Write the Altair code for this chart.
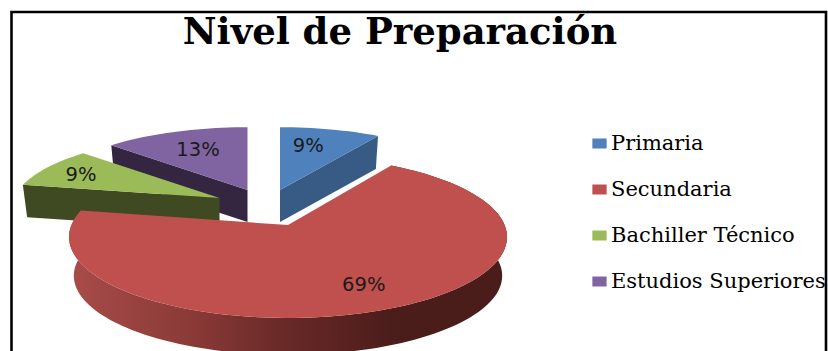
import math
import altair as alt

# Chart content
categories = ["Primaria", "Secundaria", "Bachiller Técnico", "Estudios Superiores"]
shares = [9, 69, 9, 13]
top_colors = ["#4F81BD", "#C0504D", "#9BBB59", "#8064A2"]
cut_colors = ["#375B85", "#4A1C1A", "#3F4A22", "#342640"]
chart_title = "Nivel de Preparación"

# Canvas and tilted-disc projection
WIDTH, HEIGHT = 828, 351
DISC_A, DISC_B, DISC_K = 216.6, 79.2, 0.148
BOTTOM_SCALE = 0.978

# Exploded slice layout: hub, scale in x and y, wall drop, label radius and angular shift
hubs = [(280, 190), (288, 225), (219.5, 198), (247.5, 190)]
scales = [(0.95, 0.91), (1.0, 1.0), (0.95, 0.91), (0.95, 0.91)]
drops = [32, 39, 32, 32]
label_radius = [0.68, 0.75, 0.782, 0.66]
label_shift = [-3.4, -1.4, -1.6, 0.0]


def disc_point(angle, radius=1.0):
    """Project a point of the unit disc (angle clockwise from the back) to the tilted plane."""
    a = math.radians(angle)
    px, py = radius * math.sin(a), -radius * math.cos(a)
    depth = 1 - DISC_K * py
    return DISC_A * px / depth, DISC_B * py / depth


def top_point(i, angle, radius=1.0):
    dx, dy = disc_point(angle, radius)
    return [hubs[i][0] + scales[i][0] * dx, hubs[i][1] + scales[i][1] * dy]


def bottom_point(i, angle, radius=1.0):
    dx, dy = disc_point(angle, radius)
    return [
        hubs[i][0] + BOTTOM_SCALE * scales[i][0] * dx,
        hubs[i][1] + BOTTOM_SCALE * scales[i][1] * dy + drops[i],
    ]


def arc_angles(start, end):
    steps = max(8, int((end - start) / 2))
    return [start + (end - start) * k / steps for k in range(steps + 1)]


def feature(points, **props):
    ring = points + [points[0]]
    return {"type": "Feature", "properties": props,
            "geometry": {"type": "Polygon", "coordinates": [ring]}}


# Angular extent of each slice, clockwise from the back of the disc
spans = []
running = 0.0
for share in shares:
    spans.append((running, running + share * 3.6))
    running += share * 3.6

top_faces, labels = [], []
for i, (start, end) in enumerate(spans):
    hub_top = [float(hubs[i][0]), float(hubs[i][1])]
    rim = [top_point(i, a) for a in arc_angles(start, end)]
    top_faces.append(feature([hub_top] + rim, name=categories[i]))
    mid = (start + end) / 2 + label_shift[i]
    lx, ly = top_point(i, mid, label_radius[i])
    labels.append({"lon": lx, "lat": ly, "text": f"{shares[i]}%"})

# Visible radial cut faces of the small slices, farthest first
cut_faces = []
for i, angle in [(3, spans[3][0]), (0, spans[0][1]), (2, spans[2][0])]:
    hub_top = [float(hubs[i][0]), float(hubs[i][1])]
    hub_bottom = [hub_top[0], hub_top[1] + drops[i]]
    cut_faces.append(feature(
        [hub_top, top_point(i, angle), bottom_point(i, angle), hub_bottom],
        color=cut_colors[i],
    ))

# Curved outer wall of the large slice
big = 1
arc = arc_angles(*spans[big])
wall = [top_point(big, a) for a in arc] + [bottom_point(big, a) for a in reversed(arc)]
big_wall = feature(wall)

border = feature([[11.5, 12.0], [826.0, 12.0], [826.0, 380.0], [11.5, 380.0]])

projection = alt.Projection(type="identity", scale=1, translate=[0, 0])


def shapes(features):
    return alt.Chart(alt.Data(values=features, format=alt.DataFormat(type="json")))


wall_gradient = alt.Gradient(
    gradient="linear", x1=0, x2=1, y1=0, y2=0,
    stops=[
        alt.GradientStop(offset=0.0, color="#A84C49"),
        alt.GradientStop(offset=0.28, color="#8A3A37"),
        alt.GradientStop(offset=0.48, color="#6A2A28"),
        alt.GradientStop(offset=0.75, color="#4A1C1A"),
        alt.GradientStop(offset=1.0, color="#4A1C1A"),
    ],
)

cut_layer = shapes(cut_faces).mark_geoshape(strokeWidth=0).encode(
    fill=alt.Fill("properties.color:N", scale=None)
)
wall_layer = shapes([big_wall]).mark_geoshape(fill=wall_gradient, strokeWidth=0)

# Drawn back to front so nearer slices cover the walls behind them
top_layer = shapes([top_faces[3], top_faces[0], top_faces[2], top_faces[1]]).mark_geoshape(
    strokeWidth=0
).encode(
    fill=alt.Fill(
        "properties.name:N",
        scale=alt.Scale(domain=categories, range=top_colors),
        sort=categories,
        legend=alt.Legend(
            title=None,
            orient="none",
            legendX=589,
            legendY=133,
            symbolType="M-1,-0.7H1V0.7H-1Z",
            symbolSize=204,
            symbolStrokeWidth=0,
            labelFont="DejaVu Serif",
            labelFontSize=21,
            labelColor="#000000",
            labelOffset=1,
            labelLimit=260,
            rowPadding=24,
            padding=0,
        ),
    )
)

label_layer = alt.Chart(alt.Data(values=labels)).mark_text(
    font="DejaVu Sans", fontSize=19.5, color="#1A1A1A", align="center", baseline="middle"
).encode(longitude="lon:Q", latitude="lat:Q", text="text:N")

frame_layer = shapes([border]).mark_geoshape(
    filled=False, stroke="#000000", strokeWidth=2.6
)

chart = alt.layer(cut_layer, wall_layer, top_layer, label_layer, frame_layer).properties(
    width=WIDTH,
    height=HEIGHT,
    padding=0,
    autosize=alt.AutoSizeParams(type="none"),
    background="#FFFFFF",
    projection=projection,
    title=alt.TitleParams(
        chart_title,
        font="DejaVu Serif",
        fontSize=37,
        fontWeight="bold",
        color="#000000",
        anchor="middle",
        baseline="alphabetic",
        offset=0,
        dx=-14,
        dy=81,
    ),
).configure_view(stroke=None)

chart.save("out.html", embed_options={"renderer": "svg", "actions": False})
